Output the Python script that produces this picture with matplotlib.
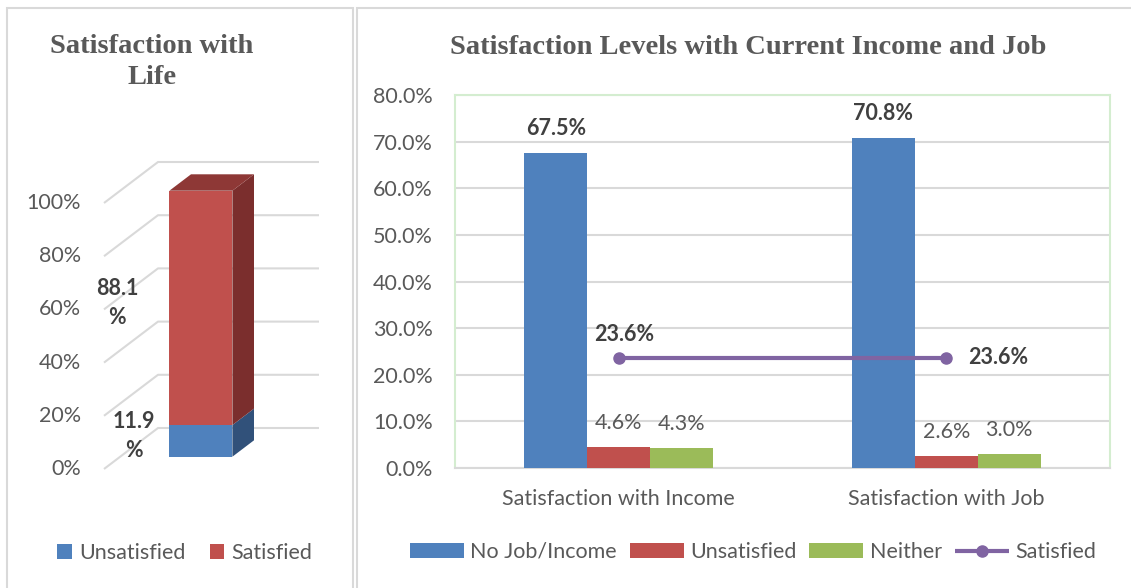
import matplotlib
matplotlib.use('Agg')
import matplotlib.pyplot as plt
from matplotlib.patches import Rectangle, Polygon, Patch
from matplotlib.lines import Line2D
import numpy as np

# ---------------- data ----------------
life_labels = ['Unsatisfied', 'Satisfied']
life_values = [11.9, 88.1]
life_ticks = [0, 20, 40, 60, 80, 100]

categories = ['Satisfaction with Income', 'Satisfaction with Job']
no_job = [67.5, 70.8]
unsatisfied = [4.6, 2.6]
neither = [4.3, 3.0]
satisfied = [23.6, 23.6]
right_ticks = [0, 10, 20, 30, 40, 50, 60, 70, 80]

# ---------------- style ----------------
W, H = 1131, 588
BLUE, RED, GREEN, PURPLE = '#4F81BD', '#C0504D', '#9BBB59', '#8064A2'
BLUE_SIDE, RED_SIDE, RED_TOP = '#31517A', '#7B2E2D', '#8E3836'
GRID = '#D9D9D9'
TXT = '#595959'
LBL = '#404040'
SANS = 'Lato'
SERIF = 'Liberation Serif'
FS = 15.5

fig = plt.figure(figsize=(W / 100, H / 100), dpi=100)
fig.patch.set_facecolor('white')


def px_axes(x0, y0, x1, y1):
    return fig.add_axes([x0 / W, 1 - y1 / H, (x1 - x0) / W, (y1 - y0) / H])


# panel borders
for (x0, y0, x1, y1) in [(7, 8, 353, 600), (357, 8, 1140, 600)]:
    fig.patches.append(Rectangle((x0 / W, 1 - y1 / H), (x1 - x0) / W, (y1 - y0) / H,
                                 transform=fig.transFigure, fill=False,
                                 edgecolor=GRID, linewidth=1.5))

# ---------------- left: 3D stacked column ----------------
S = 2.66  # px per unit
axL = px_axes(104, 140, 330, 469)
axL.set_xlim(0, 226 / S)
axL.set_ylim(0, 329 / S)
axL.axis('off')
DX, DY = 54 / S, 41 / S


def proj(x, v, d):
    return (x + d * DX, v + d * DY)


GX_END = 161 / S
for v in life_ticks:
    p0, p1 = proj(0, v, 0), proj(0, v, 1)
    p2 = proj(GX_END, v, 1)
    axL.plot([p0[0], p1[0], p2[0]], [p0[1], p1[1], p2[1]], color=GRID, lw=1.5,
             zorder=1, clip_on=False, solid_capstyle='butt')
    axL.text(-23 / S, v, f'{v}%', ha='right', va='center', fontsize=FS,
             color=TXT, family=SANS)

bx0, bw, d0, d1 = 49.2 / S, 63 / S, 0.3, 0.7
fronts = [BLUE, RED]
sides = [BLUE_SIDE, RED_SIDE]
cum = np.concatenate([[0], np.cumsum(life_values)])
lab_x = [30 / S, 13 / S]
for i, val in enumerate(life_values):
    lo, hi = cum[i], cum[i + 1]
    front = [proj(bx0, lo, d0), proj(bx0 + bw, lo, d0), proj(bx0 + bw, hi, d0), proj(bx0, hi, d0)]
    side = [proj(bx0 + bw, lo, d0), proj(bx0 + bw, lo, d1), proj(bx0 + bw, hi, d1), proj(bx0 + bw, hi, d0)]
    axL.add_patch(Polygon(front, closed=True, facecolor=fronts[i], edgecolor='none', zorder=3))
    axL.add_patch(Polygon(side, closed=True, facecolor=sides[i], edgecolor='none', zorder=3))
    if i == len(life_values) - 1:
        top = [proj(bx0, hi, d0), proj(bx0 + bw, hi, d0), proj(bx0 + bw, hi, d1), proj(bx0, hi, d1)]
        axL.add_patch(Polygon(top, closed=True, facecolor=RED_TOP, edgecolor='none', zorder=3))
    axL.text(lab_x[i], (lo + hi) / 2 + 6.5, f'{val:.1f}\n%', ha='center', va='center',
             fontsize=FS, weight='bold', color=LBL, family=SANS, linespacing=1.5, zorder=5)

fig.text(152 / W, 1 - 62 / H, 'Satisfaction with\nLife', ha='center', va='center',
         family=SERIF, weight='bold', fontsize=20.5, color=TXT, linespacing=1.32)

handlesL = [Patch(facecolor=c, edgecolor='none') for c in fronts]
fig.legend(handlesL, life_labels, loc='center', bbox_to_anchor=(185 / W, 1 - 553 / H),
           ncol=2, frameon=False, handlelength=0.68, handleheight=0.68,
           handletextpad=0.35, columnspacing=1.1,
           prop={'family': SANS, 'size': FS}, labelcolor=TXT)

# ---------------- right: grouped bars + line ----------------
axR = px_axes(455, 95, 1110, 468)
x = np.arange(len(categories))
w = 63 / 327.5
series = [(no_job, BLUE, 'No Job/Income', True),
          (unsatisfied, RED, 'Unsatisfied', False),
          (neither, GREEN, 'Neither', False)]
for k, (vals, col, name, bold) in enumerate(series):
    xs = x + (k - 1) * w
    axR.bar(xs, vals, width=w, color=col, zorder=3, label=name)
    for xi, v in zip(xs, vals):
        axR.annotate(f'{v:.1f}%', (xi, v), xytext=(0, 10), textcoords='offset points',
                     ha='center', va='bottom', fontsize=FS,
                     weight='bold' if bold else 'normal',
                     color=LBL if bold else TXT, family=SANS)

axR.plot(x, satisfied, color=PURPLE, lw=3, marker='o', markersize=8, zorder=4,
         label='Satisfied', solid_capstyle='butt')
axR.annotate(f'{satisfied[0]:.1f}%', (x[0], satisfied[0]), xytext=(4, 9),
             textcoords='offset points', ha='center', va='bottom', fontsize=FS,
             weight='bold', color=LBL, family=SANS)
axR.annotate(f'{satisfied[1]:.1f}%', (x[1], satisfied[1]), xytext=(16, 0),
             textcoords='offset points', ha='left', va='center', fontsize=FS,
             weight='bold', color=LBL, family=SANS)

axR.set_xlim(-0.5, 1.5)
axR.set_ylim(0, 80)
axR.set_yticks(right_ticks)
axR.set_yticklabels([f'{t:.1f}%' for t in right_ticks])
axR.set_xticks(x)
axR.set_xticklabels(categories)
axR.tick_params(axis='y', length=0, pad=16, labelsize=FS, labelcolor=TXT)
axR.tick_params(axis='x', length=0, pad=15, labelsize=FS, labelcolor=TXT)
for lab in axR.get_xticklabels() + axR.get_yticklabels():
    lab.set_family(SANS)
axR.grid(axis='y', color=GRID, lw=1.5, zorder=0)
axR.set_axisbelow(True)
for s in ['left', 'right', 'top']:
    axR.spines[s].set_color('#D4EDD0')
    axR.spines[s].set_linewidth(1.5)
axR.spines['bottom'].set_color(GRID)
axR.spines['bottom'].set_linewidth(1.5)

fig.text(748 / W, 1 - 47 / H, 'Satisfaction Levels with Current Income and Job',
         ha='center', va='center', family=SERIF, weight='bold', fontsize=20.5, color=TXT)

h, l = axR.get_legend_handles_labels()
order = [1, 2, 3, 0]
fig.legend([h[i] for i in order], [l[i] for i in order], loc='center',
           bbox_to_anchor=(753 / W, 1 - 552 / H), ncol=4, frameon=False,
           handlelength=2.5, handleheight=0.68, handletextpad=0.3, columnspacing=0.6,
           prop={'family': SANS, 'size': FS}, labelcolor=TXT)

fig.savefig('out.png', dpi=100, facecolor='white')
